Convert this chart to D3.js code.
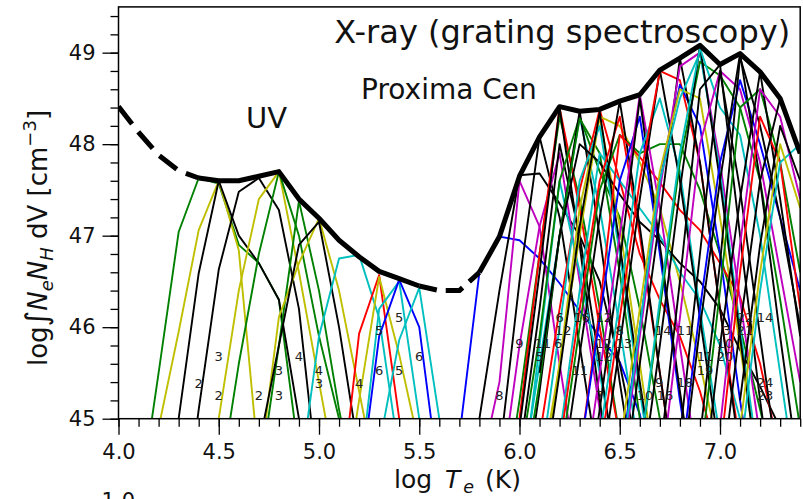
<!DOCTYPE html>
<html>
<head>
<meta charset="utf-8">
<script src="https://cdn.jsdelivr.net/npm/d3@7/dist/d3.min.js"></script>
<style>
  html, body { margin: 0; padding: 0; background: #fff; }
  svg { display: block; font-family: "DejaVu Sans", sans-serif; }
</style>
</head>
<body>
<svg id="chart" width="803" height="499"></svg>
<script>
// Emission measure loci, Proxima Cen: UV lines (left) and X-ray grating lines (right)

const xTicks = [4.0, 4.5, 5.0, 5.5, 6.0, 6.5, 7.0];
const yTicks = [45, 46, 47, 48, 49];

// line colours (classic matplotlib single-letter codes)
const palette = { b: "#0000ff", g: "#008000", r: "#ff0000", c: "#00bfbf", m: "#bf00bf", y: "#bfbf00", k: "#000000" };

// UV loci: [log T, log EM]
const uvCurves = [
  { c: "g", p: [[4.1,44.0],[4.2,45.5],[4.3,47.04],[4.4,47.63],[4.5,47.57],[4.6,46.9],[4.7,46.7],[4.8,46.3],[4.9,44.6]] },
  { c: "y", p: [[4.2,44.9],[4.3,45.95],[4.4,47.06],[4.5,47.6],[4.6,46.84],[4.7,44.5]] },
  { c: "k", p: [[4.2,43.6],[4.3,45.0],[4.4,46.59],[4.5,47.6],[4.6,47.0],[4.7,46.7],[4.8,46.3],[4.9,45.0],[5.0,43.5]] },
  { c: "k", p: [[4.3,43.4],[4.4,45.1],[4.5,46.63],[4.6,47.48],[4.7,47.63],[4.8,47.28],[4.9,46.2],[5.0,44.2]] },
  { c: "y", p: [[4.4,43.8],[4.5,45.0],[4.6,46.4],[4.7,47.4],[4.8,47.7],[4.9,46.6],[5.0,45.4],[5.1,44.2]] },
  { c: "g", p: [[4.5,44.2],[4.6,45.6],[4.7,46.8],[4.8,47.7],[4.9,47.0],[5.0,45.9],[5.1,45.0],[5.2,44.0]] },
  { c: "g", p: [[4.7,44.3],[4.8,45.8],[4.9,47.38],[5.0,46.4],[5.1,45.1],[5.2,44.0]] },
  { c: "y", p: [[4.7,44.4],[4.8,46.11],[4.9,46.7],[5.0,47.19],[5.1,46.4],[5.2,45.3],[5.3,44.2]] },
  { c: "k", p: [[4.6,43.5],[4.7,44.7],[4.8,45.8],[4.9,46.9],[5.0,47.15],[5.1,46.0],[5.2,44.6]] },
  { c: "c", p: [[4.9,44.3],[5.0,45.9],[5.1,46.75],[5.2,46.79],[5.3,46.1],[5.4,44.6]] },
  { c: "r", p: [[5.1,44.0],[5.2,45.93],[5.3,46.57],[5.4,45.0],[5.5,43.5]] },
  { c: "y", p: [[5.1,43.8],[5.2,45.2],[5.3,46.55],[5.4,45.7],[5.5,44.7]] },
  { c: "c", p: [[5.2,44.3],[5.3,46.2],[5.4,46.5],[5.5,45.0],[5.6,43.6]] },
  { c: "b", p: [[5.2,44.2],[5.3,45.9],[5.4,46.52],[5.5,46.0],[5.6,44.3]] },
  { c: "c", p: [[5.3,44.7],[5.4,45.86],[5.5,46.43],[5.6,45.0],[5.7,43.5]] }
];

// X-ray loci: [log T, log EM]
const xrayCurves = [
  { c: "b", p: [[5.7,44.8],[5.8,46.6],[5.9,46.99],[6.0,46.95],[6.1,46.75],[6.2,46.48],[6.3,46.18],[6.4,45.9],[6.5,45.62],[6.6,45.05],[6.7,44.0]] },
  { c: "k", p: [[5.7,43.5],[5.8,45.0],[5.9,46.4],[6.0,47.66],[6.1,47.68],[6.2,47.35],[6.3,47.0],[6.4,46.5],[6.5,45.6],[6.6,44.5]] },
  { c: "m", p: [[5.8,44.4],[5.9,45.4],[6.0,47.6],[6.1,47.1],[6.2,45.6],[6.3,44.2]] },
  { c: "k", p: [[5.8,43.8],[5.9,44.6],[6.0,46.5],[6.1,48.08],[6.2,47.2],[6.3,45.8],[6.4,44.4]] },
  { c: "m", p: [[5.9,44.2],[6.0,45.8],[6.1,47.1],[6.2,47.9],[6.3,46.5],[6.4,45.1],[6.5,43.8]] },
  { c: "g", p: [[5.9,43.8],[6.0,45.2],[6.1,46.8],[6.2,48.3],[6.3,47.4],[6.4,46.2],[6.5,44.8]] },
  { c: "r", p: [[5.9,43.8],[6.0,45.0],[6.1,46.8],[6.2,48.4],[6.3,47.3],[6.4,46.0],[6.5,44.8]] },
  { c: "k", p: [[5.9,43.5],[6.0,44.9],[6.1,46.6],[6.2,48.4],[6.3,46.9],[6.4,45.2],[6.5,43.8]] },
  { c: "c", p: [[6.0,44.0],[6.1,45.8],[6.2,47.6],[6.3,46.6],[6.4,45.5],[6.5,44.3]] },
  { c: "k", p: [[6.0,44.6],[6.1,46.2],[6.2,48.0],[6.3,47.0],[6.4,45.6],[6.5,44.2]] },
  { c: "g", p: [[6.0,44.5],[6.1,45.9],[6.2,47.6],[6.3,48.3],[6.4,47.7],[6.5,47.2],[6.6,46.2],[6.7,45.0],[6.8,44.0]] },
  { c: "c", p: [[6.0,44.2],[6.1,45.6],[6.2,47.0],[6.3,48.3],[6.4,47.3],[6.5,46.0],[6.6,44.6]] },
  { c: "k", p: [[6.0,43.8],[6.1,45.3],[6.2,47.0],[6.3,48.36],[6.4,47.0],[6.5,45.4],[6.6,44.0]] },
  { c: "g", p: [[6.0,44.0],[6.1,45.4],[6.2,47.0],[6.3,48.28],[6.4,47.9],[6.5,46.6],[6.6,45.0]] },
  { c: "r", p: [[6.1,44.8],[6.2,46.2],[6.3,47.5],[6.4,48.38],[6.5,47.6],[6.6,46.8],[6.7,46.3],[6.8,45.9],[6.9,45.3],[7.0,44.5]] },
  { c: "y", p: [[6.1,44.3],[6.2,45.6],[6.3,47.0],[6.4,48.3],[6.5,48.2],[6.6,47.8],[6.7,47.3],[6.8,46.5],[6.9,45.6],[7.0,44.6]] },
  { c: "y", p: [[6.1,44.0],[6.2,45.6],[6.3,47.3],[6.4,48.3],[6.5,47.1],[6.6,45.6],[6.7,44.1]] },
  { c: "c", p: [[6.1,44.4],[6.2,46.0],[6.3,47.6],[6.4,48.2],[6.5,46.8],[6.6,45.3],[6.7,43.9]] },
  { c: "k", p: [[6.1,44.0],[6.2,45.5],[6.3,47.1],[6.4,48.35],[6.5,46.9],[6.6,45.4],[6.7,44.0]] },
  { c: "k", p: [[6.1,45.5],[6.2,47.0],[6.3,48.0],[6.4,47.8],[6.5,47.45],[6.6,47.15],[6.7,46.95],[6.8,46.7],[6.9,46.5],[7.0,46.2],[7.1,45.75],[7.2,45.35],[7.3,44.9]] },
  { c: "g", p: [[6.2,44.5],[6.3,46.0],[6.4,47.5],[6.5,48.1],[6.6,47.9],[6.7,48.0],[6.8,48.0],[6.9,47.5],[7.0,46.8],[7.1,46.0],[7.2,45.1],[7.3,44.2]] },
  { c: "c", p: [[6.2,44.8],[6.3,46.4],[6.4,47.9],[6.5,47.6],[6.6,47.3],[6.7,47.0],[6.8,46.6],[6.9,46.3],[7.0,45.8],[7.1,45.0],[7.2,44.2]] },
  { c: "r", p: [[6.2,44.7],[6.3,46.2],[6.4,47.6],[6.5,48.3],[6.6,47.0],[6.7,45.5],[6.8,44.0]] },
  { c: "k", p: [[6.2,44.2],[6.3,45.7],[6.4,47.2],[6.5,48.47],[6.6,47.1],[6.7,45.5],[6.8,44.0]] },
  { c: "r", p: [[6.3,44.6],[6.4,46.2],[6.5,48.1],[6.6,47.86],[6.7,47.58],[6.8,47.28],[6.9,47.06],[7.0,46.7],[7.1,46.33],[7.2,45.6],[7.3,44.6]] },
  { c: "b", p: [[6.3,44.6],[6.4,46.1],[6.5,47.6],[6.6,48.3],[6.7,46.8],[6.8,45.2],[6.9,43.8]] },
  { c: "m", p: [[6.3,44.0],[6.4,45.5],[6.5,47.0],[6.6,48.54],[6.7,47.3],[6.8,45.8],[6.9,44.3]] },
  { c: "k", p: [[6.3,43.6],[6.4,45.1],[6.5,46.7],[6.6,48.5],[6.7,46.9],[6.8,45.3],[6.9,43.8]] },
  { c: "c", p: [[6.4,44.8],[6.5,46.3],[6.6,47.9],[6.7,48.5],[6.8,47.7],[6.9,46.2],[7.0,44.8]] },
  { c: "k", p: [[6.4,44.3],[6.5,45.8],[6.6,47.4],[6.7,48.81],[6.8,47.6],[6.9,46.1],[7.0,44.6]] },
  { c: "r", p: [[6.4,44.6],[6.5,46.1],[6.6,47.6],[6.7,48.8],[6.8,48.7],[6.9,47.8],[7.0,46.2],[7.1,44.7]] },
  { c: "b", p: [[6.5,44.5],[6.6,46.0],[6.7,47.6],[6.8,48.65],[6.9,48.2],[7.0,46.8],[7.1,45.2],[7.2,43.8]] },
  { c: "k", p: [[6.5,44.0],[6.6,45.6],[6.7,47.2],[6.8,48.94],[6.9,47.8],[7.0,46.2],[7.1,44.6]] },
  { c: "m", p: [[6.5,44.3],[6.6,45.9],[6.7,47.5],[6.8,48.85],[6.9,49.0],[7.0,47.8],[7.1,46.3],[7.2,44.8]] },
  { c: "y", p: [[6.5,44.7],[6.6,46.2],[6.7,47.7],[6.8,48.6],[6.9,48.5],[7.0,47.2],[7.1,45.8],[7.2,44.3]] },
  { c: "c", p: [[6.5,44.4],[6.6,46.0],[6.7,47.6],[6.8,48.5],[6.9,49.0],[7.0,47.7],[7.1,46.0],[7.2,44.4]] },
  { c: "g", p: [[6.6,44.6],[6.7,46.2],[6.8,47.8],[6.9,48.9],[7.0,48.75],[7.1,48.4],[7.2,47.6],[7.3,46.3],[7.4,44.9]] },
  { c: "k", p: [[6.6,44.2],[6.7,45.8],[6.8,47.5],[6.9,49.08],[7.0,47.6],[7.1,45.9],[7.2,44.2]] },
  { c: "c", p: [[6.6,44.6],[6.7,46.3],[6.8,47.9],[6.9,49.05],[7.0,48.4],[7.1,48.1],[7.2,47.0],[7.3,45.5],[7.4,44.0]] },
  { c: "m", p: [[6.7,44.3],[6.8,46.1],[6.9,48.0],[7.0,48.8],[7.1,48.6],[7.2,47.8],[7.3,46.6],[7.4,45.4]] },
  { c: "k", p: [[6.7,44.6],[6.8,46.5],[6.9,48.6],[7.0,48.87],[7.1,47.0],[7.2,45.2],[7.3,43.6]] },
  { c: "k", p: [[6.8,44.8],[6.9,46.8],[7.0,48.8],[7.1,47.5],[7.2,45.9],[7.3,44.3]] },
  { c: "b", p: [[6.8,44.4],[6.9,46.2],[7.0,47.8],[7.1,48.7],[7.2,48.0],[7.3,47.2],[7.4,46.4]] },
  { c: "k", p: [[6.8,44.2],[6.9,46.0],[7.0,47.6],[7.1,48.99],[7.2,47.6],[7.3,45.9],[7.4,44.3]] },
  { c: "g", p: [[6.9,44.5],[7.0,46.4],[7.1,48.4],[7.2,48.6],[7.3,47.8],[7.4,46.6]] },
  { c: "k", p: [[6.9,44.8],[7.0,46.7],[7.1,48.95],[7.2,48.2],[7.3,47.2],[7.4,46.0]] },
  { c: "k", p: [[6.9,44.0],[7.0,45.8],[7.1,47.4],[7.2,48.79],[7.3,47.4],[7.4,45.9]] },
  { c: "r", p: [[7.0,44.6],[7.1,46.6],[7.2,48.3],[7.3,47.8],[7.4,46.2]] },
  { c: "m", p: [[7.0,44.9],[7.1,46.9],[7.2,48.6],[7.3,48.3],[7.4,47.4]] },
  { c: "k", p: [[7.0,44.2],[7.1,46.0],[7.2,47.6],[7.3,48.5],[7.4,47.9]] },
  { c: "c", p: [[7.1,44.6],[7.2,46.4],[7.3,47.8],[7.4,48.0]] },
  { c: "y", p: [[7.1,44.9],[7.2,46.6],[7.3,48.0],[7.4,47.3]] },
  { c: "k", p: [[7.1,45.2],[7.2,46.9],[7.3,48.2],[7.4,47.6]] }
];

// upper envelope: solid where constrained, dashed across the gaps
const envelopeLowT = [[4.0,48.41],[4.1,48.13],[4.2,47.88],[4.3,47.71],[4.4,47.63]];
const envelopeUV = [[4.4,47.63],[4.5,47.6],[4.6,47.6],[4.7,47.65],[4.8,47.7],[4.9,47.4],[5.0,47.19],[5.1,46.95],[5.2,46.77],[5.3,46.61],[5.4,46.53],[5.5,46.45]];
const envelopeGap = [[5.5,46.45],[5.6,46.4],[5.7,46.4],[5.8,46.6]];
const envelopeXray = [[5.8,46.6],[5.9,46.99],[6.0,47.65],[6.1,48.08],[6.2,48.41],[6.3,48.36],[6.4,48.38],[6.5,48.47],[6.6,48.54],[6.7,48.81],[6.8,48.94],[6.9,49.08],[7.0,48.87],[7.1,48.99],[7.2,48.79],[7.3,48.5],[7.4,47.9]];

// ion charge labels: [log T, log EM, text]
const uvLabels = [
  [4.5,45.68,"3"],[4.4,45.39,"2"],[4.5,45.25,"2"],[4.7,45.25,"2"],[4.8,45.53,"3"],[4.8,45.25,"3"],
  [4.9,45.68,"4"],[5.0,45.53,"4"],[5.0,45.39,"3"],[5.2,45.39,"4"],[5.3,45.96,"5"],[5.4,46.11,"5"],
  [5.3,45.53,"6"],[5.4,45.53,"5"],[5.5,45.68,"6"]
];
const xrayLabels = [
  [5.9,45.25,"8"],[6.0,45.82,"9"],[6.116,45.82,"11"],[6.193,45.82,"6"],[6.099,45.68,"5"],
  [6.2,46.11,"6"],[6.218,45.96,"12"],[6.31,46.11,"16"],[6.42,46.11,"12"],[6.3,45.53,"11"],
  [6.42,45.82,"12"],[6.52,45.82,"13"],[6.42,45.68,"12"],[6.5,45.96,"8"],[6.4,45.25,"7"],
  [6.626,45.25,"10"],[6.697,45.4,"9"],[6.726,45.25,"16"],[6.717,45.96,"14"],[6.825,45.96,"11"],
  [6.825,45.4,"18"],[6.925,45.68,"11"],[6.925,45.53,"19"],[7.033,45.96,"3"],[7.025,45.82,"10"],
  [7.025,45.68,"20"],[7.125,46.11,"22"],[7.125,45.96,"21"],[7.225,46.11,"14"],[7.225,45.4,"24"],
  [7.225,45.25,"23"]
];

const svg = d3.select("#chart");
const x = d3.scaleLinear().domain([4.0, 7.4]).range([118.5, 800.2]);
const y = d3.scaleLinear().domain([45, 49.5]).range([418.7, 6.9]);

svg.append("defs").append("clipPath").attr("id", "plotClip")
  .append("rect")
  .attr("x", x(4.0)).attr("y", y(49.5))
  .attr("width", x(7.4) - x(4.0)).attr("height", y(45) - y(49.5));

const plot = svg.append("g").attr("clip-path", "url(#plotClip)");
const line = d3.line().x(d => x(d[0])).y(d => y(d[1]));

plot.selectAll("path.locus")
  .data(uvCurves.concat(xrayCurves))
  .join("path")
  .attr("class", "locus")
  .attr("d", d => line(d.p))
  .attr("fill", "none")
  .attr("stroke", d => palette[d.c])
  .attr("stroke-width", 1.9)
  .attr("stroke-linejoin", "round");

// ion labels
const labelG = svg.append("g").attr("font-size", 13).attr("fill", "#222")
  .attr("text-anchor", "middle").attr("dominant-baseline", "central");
labelG.selectAll("text")
  .data(uvLabels.concat(xrayLabels))
  .join("text")
  .attr("x", d => x(d[0]))
  .attr("y", d => y(d[1]))
  .text(d => d[2]);

// envelope
const envStyle = sel => sel.attr("fill", "none").attr("stroke", "#000")
  .attr("stroke-width", 5).attr("stroke-linejoin", "round");
plot.append("path").attr("d", line(envelopeLowT)).call(envStyle).attr("stroke-dasharray", "22,10");
plot.append("path").attr("d", line(envelopeUV)).call(envStyle);
plot.append("path").attr("d", line(envelopeGap)).call(envStyle).attr("stroke-dasharray", "18,9");
plot.append("path").attr("d", line(envelopeXray)).call(envStyle);

// axes
const fmt = d3.format(".1f");
const xMinor = d3.range(40, 75).map(v => v / 10);
const yMinor = d3.range(225, 248).map(v => v / 5);

const styleAxis = g => {
  g.select(".domain").remove();
  g.selectAll("line").attr("stroke", "#000").attr("stroke-width", 1.3);
  g.selectAll("text").attr("fill", "#111").attr("font-size", 21)
    .attr("font-family", "DejaVu Sans, sans-serif");
};

svg.append("g").attr("transform", `translate(0,${y(45)})`)
  .call(d3.axisBottom(x).tickValues(xMinor).tickSize(8).tickFormat(""))
  .call(styleAxis);
svg.append("g").attr("transform", `translate(0,${y(45)})`)
  .call(d3.axisBottom(x).tickValues(xTicks).tickSize(16).tickPadding(9).tickFormat(fmt))
  .call(styleAxis);
svg.append("g").attr("transform", `translate(${x(4.0)},0)`)
  .call(d3.axisLeft(y).tickValues(yMinor).tickSize(8).tickFormat(""))
  .call(styleAxis);
svg.append("g").attr("transform", `translate(${x(4.0)},0)`)
  .call(d3.axisLeft(y).tickValues(yTicks).tickSize(16).tickPadding(7).tickFormat(d3.format("d")))
  .call(styleAxis);

// frame
svg.append("rect")
  .attr("x", x(4.0)).attr("y", y(49.5))
  .attr("width", x(7.4) - x(4.0)).attr("height", y(45) - y(49.5))
  .attr("fill", "none").attr("stroke", "#000").attr("stroke-width", 1.5);

// annotations
const ann = svg.append("g").attr("fill", "#111");
ann.append("text").attr("x", x(7.35)).attr("y", 43).attr("text-anchor", "end")
  .attr("font-size", 32).text("X-ray (grating spectroscopy)");
ann.append("text").attr("x", 361).attr("y", 99).attr("font-size", 28).text("Proxima Cen");
ann.append("text").attr("x", 246).attr("y", 128).attr("font-size", 29).text("UV");

// x-axis label
const xl = svg.append("text").attr("x", 394).attr("y", 488)
  .attr("font-size", 25).attr("fill", "#111");
xl.append("tspan").text("log ");
xl.append("tspan").attr("font-style", "italic").attr("dx", 5).text("T");
xl.append("tspan").attr("font-style", "italic").attr("font-size", 17.5).attr("dx", 3).attr("dy", 5).text("e");
xl.append("tspan").attr("dy", -5).attr("dx", 3).text(" (K)");

// y-axis label
const yl = svg.append("text").attr("transform", "translate(47,238) rotate(-90)")
  .attr("text-anchor", "middle").attr("font-size", 26).attr("fill", "#111");
yl.append("tspan").text("log");
yl.append("tspan").attr("font-size", 30).text("\u222B");
yl.append("tspan").attr("font-style", "italic").text("N");
yl.append("tspan").attr("font-style", "italic").attr("font-size", 18).attr("dy", 6).text("e");
yl.append("tspan").attr("font-style", "italic").attr("dy", -6).text("N");
yl.append("tspan").attr("font-style", "italic").attr("font-size", 18).attr("dy", 6).text("H");
yl.append("tspan").attr("dy", -6).text(" dV [cm");
yl.append("tspan").attr("font-size", 18).attr("dy", -11).text("\u22123");
yl.append("tspan").attr("dy", 11).text("]");

// tick label of the panel below, cut by the page edge
svg.append("text").attr("x", 135).attr("y", 508).attr("text-anchor", "end")
  .attr("font-size", 21).attr("fill", "#111").text("1.0");
</script>
</body>
</html>
